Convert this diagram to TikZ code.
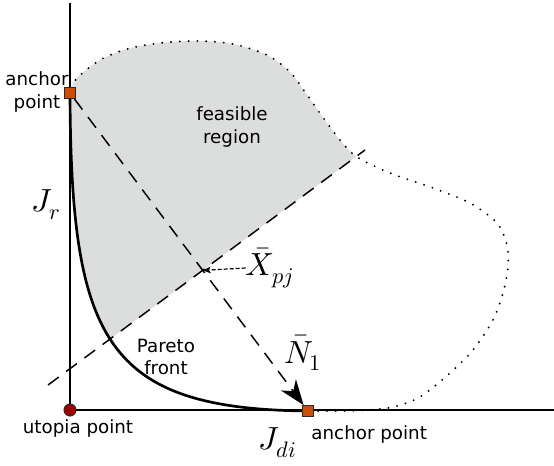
\documentclass[tikz,border=0pt]{standalone}
\usepackage{fontspec}
\usepackage{unicode-math}
\setmainfont{DejaVu Sans}
\setmathfont{Latin Modern Math}
\usetikzlibrary{arrows.meta,positioning,backgrounds}
\definecolor{Region}{HTML}{DCDDDD}
\definecolor{Anchor}{HTML}{CC4E0A}
\definecolor{Utopia}{HTML}{A00000}
\definecolor{Edge}{HTML}{2B2B2B}
\tikzset{
  axisline/.style={line width=2pt},
  front/.style={line width=2pt},
  bound/.style={line width=1.6pt,line cap=round,dash pattern=on 0pt off 6.6pt},
  tradeoff/.style={line width=1.1pt,dash pattern=on 10pt off 7pt},
  normal/.style={tradeoff,-{Stealth[length=19pt,width=14pt,inset=6pt]}},
  pointer/.style={line width=0.9pt,dash pattern=on 3pt off 1.5pt,-{Stealth[length=6pt,width=5pt,inset=1.5pt]}},
  anchorpt/.style={draw=Edge,fill=Anchor,line width=0.8pt,minimum size=8pt,inner sep=0pt},
  utopiapt/.style={circle,draw=Edge,fill=Utopia,line width=0.8pt,minimum size=9pt,inner sep=0pt},
  lbl/.style={font=\fontsize{13.7}{17}\selectfont,align=center,inner sep=0pt},
  mlbl/.style={font=\fontsize{24}{28}\selectfont,inner sep=0pt}
}

\begin{document}
\begin{tikzpicture}[x=0.75pt,y=-0.75pt]
  \useasboundingbox (0,0) rectangle (554,465);
  % points
  \node[anchorpt] (anchorR) at (70,93) {};
  \node[anchorpt] (anchorD) at (308,411) {};
  \node[utopiapt] (utopia) at (70,410) {};
  \coordinate (t1) at (48,385);
  \coordinate (t2) at (365,150);
  \coordinate (ytop) at (70,3);
  \coordinate (xend) at (554,410);
  \coordinate (xpj) at (intersection of t1--t2 and anchorR--anchorD);
  % labels
  \node[lbl] (anchorRlbl) at (37,92) {anchor\\point};
  \node[lbl,below right=6pt and -2pt of anchorD] (anchorDlbl) {anchor point};
  \node[lbl] (utopialbl) at (78,428) {utopia point};
  \node[lbl] (feasible) at (232,127) {feasible\\region};
  \node[lbl] (pareto) at (166,357) {Pareto\\front};
  \node[mlbl] (jr) at (46,205) {$J_r$};
  \node[mlbl] (jdi) at (278,443) {$J_{di}$};
  \node[mlbl] (nlbl) at (303,353) {$\bar{N}_1$};
  \node[mlbl] (xlbl) at (270,268) {$\bar{X}_{pj}$};
  \draw[pointer] (xlbl.west) -- (xpj);
  \begin{scope}[on background layer]
    \begin{scope}
      \clip (0,420.6) -- (554,10) -- (554,0) -- (0,0) -- cycle;
      \fill[Region] plot[smooth] coordinates {(70,93) (77,78) (100,60) (127,49) (160,43)
        (197,41) (233,44) (267,55) (290,72) (305,92) (322,116) (340,140) (357,157)
        (390,173) (433,188) (470,203) (497,223) (507,245) (508,267) (503,293) (493,320)
        (473,350) (450,373) (420,397) (393,407) (367,410) (345,411) (308,411)}
        .. controls (105,409) and (71,340) .. (70,93) -- cycle;
    \end{scope}
    \draw[bound] plot[smooth] coordinates {(72,88) (77,78) (100,60) (127,49) (160,43)
      (197,41) (233,44) (267,55) (290,72) (305,92) (322,116) (340,140) (357,157)
      (390,173) (433,188) (470,203) (497,223) (507,245) (508,267) (503,293) (493,320)
      (473,350) (450,373) (420,397) (393,407) (367,410) (345,411) (310,411)};
    \draw[tradeoff] (t1) -- (t2);
    \draw[front] (anchorR.center) .. controls (71,340) and (105,409) .. (anchorD.center);
    \draw[axisline] (ytop) -- (utopia.center) -- (xend);
  \end{scope}
  \draw[normal] (anchorR) -- (anchorD);
\end{tikzpicture}
\end{document}
